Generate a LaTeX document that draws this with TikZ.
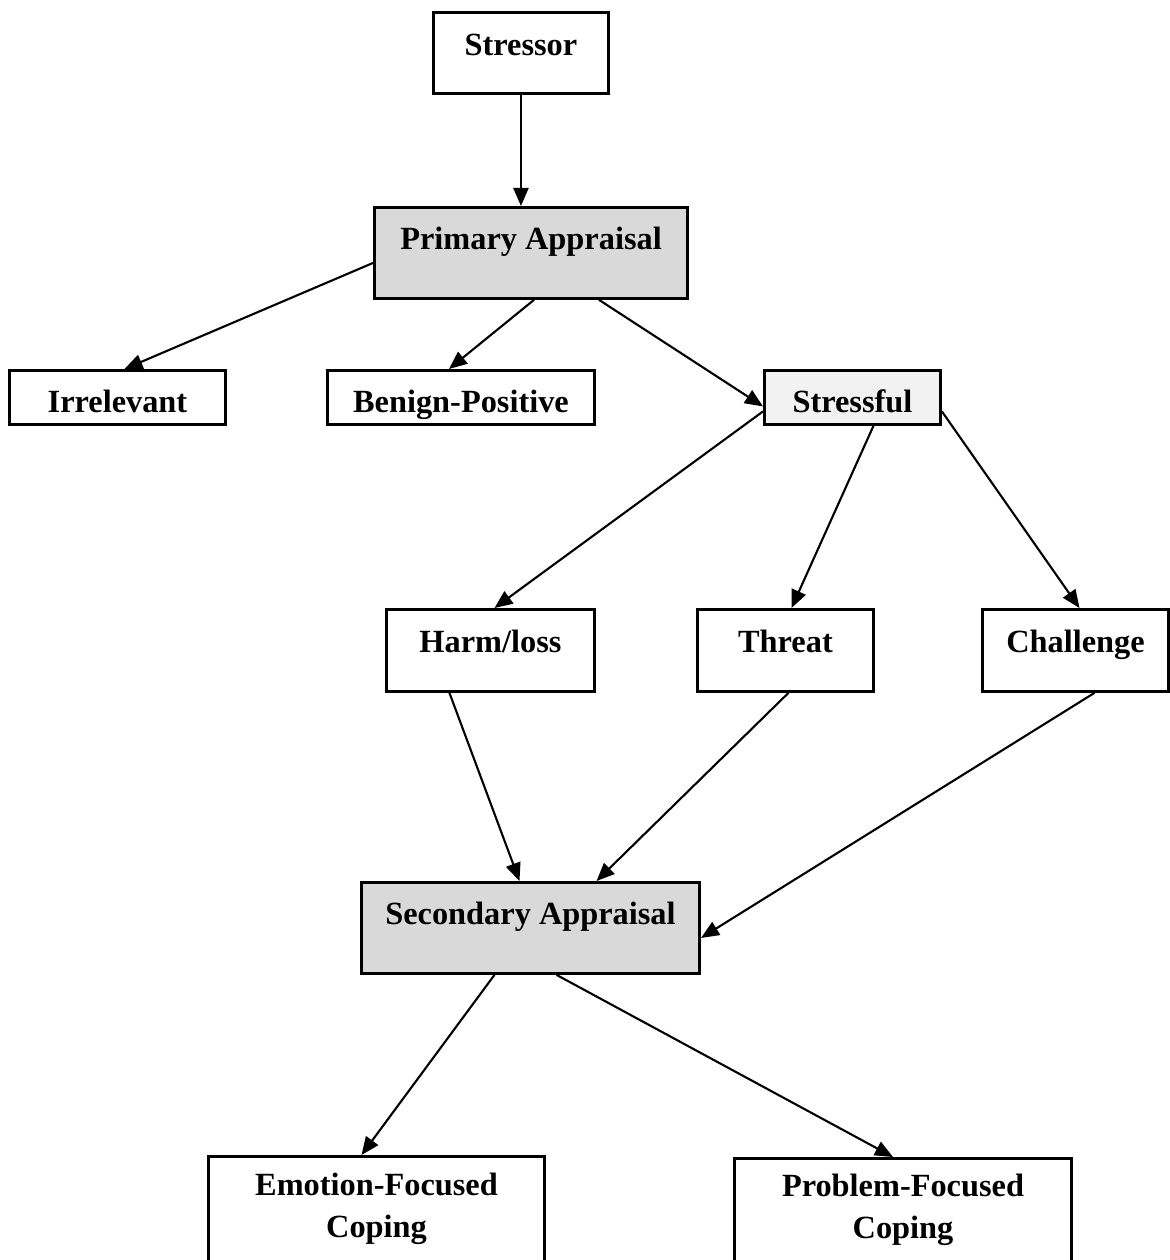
\documentclass[tikz,border=0pt]{standalone}
\usepackage{fontspec}
\setmainfont{Liberation Serif}
\usepackage{tikz}
\usetikzlibrary{arrows.meta}

\tikzset{
  box/.style={draw, line width=0.8pt, inner sep=0pt, anchor=north west,
    font=\fontsize{9.2}{12}\selectfont\bfseries, align=center},
  tallbox/.style={box, text height=0.42cm, text depth=0.49cm},
  midbox/.style={box, text height=0.43cm, text depth=0.39cm},
  flatbox/.style={box, text height=0.42cm, text depth=0.12cm},
  arr/.style={-{Triangle[length=1.8mm,width=1.5mm]}, line width=0.6pt},
}

\begin{document}
\begin{tikzpicture}[x=0.01cm, y=-0.01cm]
  \useasboundingbox (0,0) rectangle (1169,1260);
  % boxes
  \node[midbox, minimum width=1.75cm, text height=0.43cm, text depth=0.38cm] (stressor) at (432,11) {Stressor};
  \node[tallbox, fill=black!15, minimum width=3.13cm] (primary) at (373,206) {Primary Appraisal};
  \node[flatbox, minimum width=2.16cm] (irrelevant) at (8,369) {Irrelevant};
  \node[flatbox, minimum width=2.67cm] (benign) at (326,369) {Benign-Positive};
  \node[flatbox, fill=black!5, minimum width=1.76cm] (stressful) at (763,369) {Stressful};
  \node[midbox, minimum width=2.08cm] (harm) at (385,608) {Harm/loss};
  \node[midbox, minimum width=1.76cm] (threat) at (696,608) {Threat};
  \node[midbox, minimum width=1.86cm] (challenge) at (981,608) {Challenge};
  \node[tallbox, fill=black!15, minimum width=3.38cm] (secondary) at (360,881) {Secondary Appraisal};
  \node[box, minimum width=3.36cm, minimum height=1.05cm] (emotion) at (207,1155) {Emotion-Focused\\Coping};
  \node[box, minimum width=3.37cm, minimum height=1.03cm] (problem) at (733,1157) {Problem-Focused\\Coping};
  % arrows
  \draw[arr] (stressor.south) -- (stressor.south |- primary.north);
  \draw[arr] ([yshift=-0.1cm]primary.west) -- ([xshift=0.07cm]irrelevant.north);
  \draw[arr] ([xshift=0.03cm]primary.south) -- ([xshift=-0.12cm]benign.north);
  \draw[arr] ([xshift=0.68cm]primary.south) -- ([yshift=-0.09cm]stressful.west);
  \draw[arr] ([yshift=-0.14cm]stressful.west) -- ([xshift=0.04cm]harm.north);
  \draw[arr] ([xshift=0.21cm]stressful.south) -- ([xshift=0.06cm]threat.north);
  \draw[arr] ([yshift=-0.14cm]stressful.east) -- ([xshift=0.04cm]challenge.north);
  \draw[arr] ([xshift=-0.41cm]harm.south) -- ([xshift=-0.11cm]secondary.north);
  \draw[arr] ([xshift=0.03cm]threat.south) -- ([xshift=0.66cm]secondary.north);
  \draw[arr] ([xshift=0.19cm]challenge.south) -- ([yshift=-0.1cm]secondary.east);
  \draw[arr] ([xshift=-0.36cm]secondary.south) -- ([xshift=-0.15cm]emotion.north);
  \draw[arr] ([xshift=0.26cm]secondary.south) -- ([xshift=-0.1cm]problem.north);
\end{tikzpicture}
\end{document}
